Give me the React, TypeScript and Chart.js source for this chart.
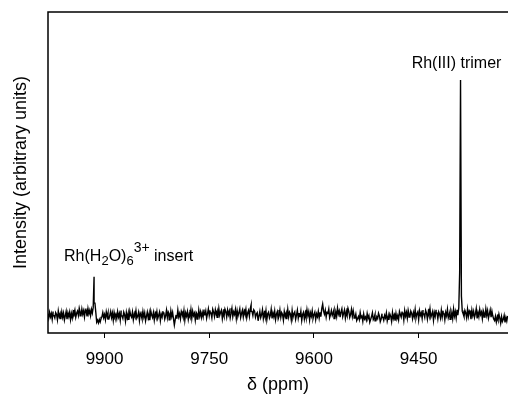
import React, { useEffect, useRef } from "react";
import { Chart, registerables } from "chart.js";

Chart.register(...registerables);

// Spectrum sampling grid (ppm of the first sample and spacing between samples)
const PPM_START = 9322.5;
const PPM_STEP = 1.25;

// Intensity (arbitrary units) for each sample, from 9322.5 ppm upward
const INTENSITY = [
  -0.4, -2.6, -1.1, -3.2, -0.2, -1.9, -2.8, -0.7, -3.5, -1.4, 0.3, -2.2, -1.0, -3.0, -0.6, -2.4,
  -1.7, -0.5, 1.6, -1.0, 2.1, 0.3, -1.4, 1.8, -0.2, 2.6, -0.9, 0.7, 1.9, -1.6, 1.2, 0.1,
  2.3, -0.8, 1.0, -1.5, 2.7, 0.4, -1.1, 1.5, -0.3, 2.0, -1.8, 0.9, 1.7, -0.6, 2.4, -1.2,
  0.8, 1.9, -0.7, 0.5, 1.5, 8.0, 100, 18.0, 3.0, 0.2, 2.2, -1.3, 1.4, -0.5, 2.5, -1.6,
  0.9, -1.9, 1.6, 0.1, -1.2, 2.4, -0.4, 1.1, -2.1, 0.6, 1.8, -0.9, 2.0, -1.4, 0.3, 1.3,
  -1.7, 0.8, 2.2, -0.6, 1.0, -2.3, 1.5, 0.2, -1.0, 2.6, -0.3, 1.2, -1.8, 0.7, 1.9, -1.1,
  0.4, 2.1, -1.5, 0.9, -0.2, 1.7, -2.0, 1.3, 0.5, -1.3, 2.3, -0.7, 1.0, -1.6, 0.6, 1.6,
  -0.9, 0.3, 2.0, -1.4, 1.1, -0.5, 1.8, -2.2, 0.7, 1.4, -1.0, 0.2, 1.5, -2.1, -0.3, -1.7,
  0.6, -2.4, -0.1, -1.5, 1.0, -2.8, -0.6, 0.4, -1.9, -0.9, -2.6, 0.8, -1.3, -0.2, -2.3, -1.0,
  0.5, -1.8, -2.9, -0.4, 0.7, -1.6, -0.8, -2.5, 0.2, -1.2, -2.0, 0.9, -0.7, -1.9, -3.1, -0.3,
  -1.4, 0.6, -2.2, -0.9, -1.7, 0.4, -2.7, -0.5, -1.1, 1.0, -2.0, -0.6, -1.5, -2.4, 0.3, -1.3,
  -0.4, 1.8, -0.6, 2.4, 0.2, -1.1, 1.5, 2.8, -0.3, 1.0, -1.4, 2.1, 0.7, -0.8, 2.6, 1.2,
  -1.0, 1.7, 0.4, 2.9, -0.7, 1.3, -1.5, 2.2, 0.9, -0.2, 1.9, 0.1, -1.2, 2.5, 0.6, 1.4,
  -0.9, 2.0, 0.3, 1.6, 4.6, 2.8, -0.5, 1.1, -1.3, 1.5, -0.8, 0.4, -2.0, 1.2, 0.1, -1.5,
  1.8, -0.6, 0.9, -2.1, 1.4, -0.3, 2.2, -1.2, 0.5, -1.8, 1.1, 0.2, -2.4, 1.6, -0.7, 0.8,
  -1.4, 2.0, -0.1, -1.9, 1.3, 0.6, -1.0, 1.9, -2.2, 0.4, 1.2, -0.9, 2.3, -1.6, 0.7, -0.4,
  1.5, -2.3, 0.2, 1.0, -1.1, 2.1, -0.5, -1.7, 1.4, 0.3, -2.0, 1.7, -0.8, 0.9, -1.5, 2.4,
  -0.2, -1.3, 1.2, 0.5, -2.1, 1.8, -0.9, 0.6, -1.6, 2.2, 0.1, -1.2, 1.5, -0.4, -2.5, 1.0,
  0.4, -1.0, 1.6, 2.2, -0.3, 1.5, 4.3, 2.7, -0.6, 1.9, 0.8, -1.2, 2.4, 0.3, 1.7, -0.9,
  2.0, 0.6, -1.1, 2.6, 1.0, -0.4, 1.8, -1.5, 2.3, 0.2, 1.3, -0.8, 2.8, 0.7, -1.3, 1.6,
  0.1, 2.1, -0.9, 1.4, 2.5, -0.5, 0.9, -1.6, 2.0, 1.1, -0.2, 2.7, -1.0, 1.5, 0.4, 2.2,
  -0.7, 1.2, 2.4, -1.2, 0.8, 1.9, -0.3, 2.6, 0.5, -1.4, 1.7, 0.0, 2.3, -0.8, 1.0, -1.1,
  1.3, -0.6, 2.0, -1.8, 0.4, 1.1, -2.2, 0.7, -0.3, 1.6, -1.5, 2.2, -0.9, 0.2, -1.9, 1.4,
  -0.5, 0.9, -2.3, 1.8, -1.0, 0.3, 1.5, -1.7, 0.6, -0.8, 2.1, -1.3, 0.0, -2.0, -4.3, -1.6,
  1.1, -0.7, 1.7, -2.1, 0.5, 1.3, -1.2, 2.0, -0.4, -1.8, 0.8, 1.6, -0.9, 0.3, -2.4, 1.2,
  -0.2, -1.5, 1.4, -0.8, 0.6, -2.2, 1.0, -1.1, -0.1, 1.7, -2.0, 0.4, -1.3, 1.2, -0.6, -2.5,
  0.9, -0.9, 1.5, -1.7, -0.2, 0.7, -2.4, 1.1, -0.5, -1.4, 1.8, -0.8, 0.2, -2.1, 1.3, -1.0,
  -0.3, 1.6, -1.9, 0.5, -1.2, 1.0, -2.6, 0.1, 1.2, -1.5, -0.4, 1.9, -2.2, 0.6, -0.9, 1.4,
  -1.6, 0.3, -0.7, 1.1, -2.3, 0.8, -1.1, 1.5, -0.2, -1.8, 0.9, -0.6, 1.3, -2.0, 0.2, -1.2,
  1.0, -0.8, -1.6, -3.0, -1.9, -3.4, -2.2, -3.1, 1.0, 5.0, 16.2, 3.2, 0.8, 2.4, -0.3, 1.9,
  0.4, 2.7, -0.6, 1.5, 2.2, -0.9, 1.8, 0.3, 2.5, -0.4, 1.2, 2.9, -0.2, 1.6, 0.7, -1.0,
  2.1, 0.5, 1.4, -1.3, 0.6, -2.0, 1.2, -0.7, 0.9, -1.8, 1.5, -0.4, -2.2, 0.8, -1.0, 1.3,
  -1.5, 0.4, -0.6, 1.7, -2.1, 0.2, 1.0, -1.3, -0.3, 1.4, -1.9, 0.6, -0.8, 1.1, -1.4, 0.5,
];

const X_TICKS = [9450, 9600, 9750, 9900];
const X_MIN = 9322;
const X_MAX = 9981;
const Y_MIN = -7.7;
const Y_MAX = 128.9;

const TRIMER_PPM = 9390;
const INSERT_PPM = 9915;

const FONT = '"Liberation Sans", Arial, Helvetica, sans-serif';

function valueAt(ppm: number) {
  return INTENSITY[Math.round((ppm - PPM_START) / PPM_STEP)];
}

const annotationPlugin = {
  id: "annot",
  afterDraw(chart: any) {
    const { ctx, chartArea, scales } = chart;
    const xs = scales.x;
    const ys = scales.y;
    ctx.save();
    // frame: left, top, bottom
    ctx.strokeStyle = "#000";
    ctx.lineWidth = 1.5;
    ctx.beginPath();
    ctx.moveTo(chartArea.right + 1, chartArea.top);
    ctx.lineTo(chartArea.left, chartArea.top);
    ctx.lineTo(chartArea.left, chartArea.bottom);
    ctx.lineTo(chartArea.right + 1, chartArea.bottom);
    ctx.stroke();

    ctx.fillStyle = "#000";
    ctx.textBaseline = "alphabetic";

    // Rh(III) trimer label
    const tx = xs.getPixelForValue(TRIMER_PPM);
    const ty = ys.getPixelForValue(valueAt(TRIMER_PPM));
    ctx.font = `16px ${FONT}`;
    ctx.textAlign = "center";
    ctx.fillText("Rh(III) trimer", tx - 4, ty - 11.5);

    // Rh(H2O)6 3+ insert label
    const ix = xs.getPixelForValue(INSERT_PPM);
    const iy = ys.getPixelForValue(valueAt(INSERT_PPM));
    ctx.textAlign = "left";
    const parts = [
      { t: "Rh(H", s: 16, dy: 0 },
      { t: "2", s: 13, dy: 4 },
      { t: "O)", s: 16, dy: 0 },
      { t: "6", s: 13, dy: 4 },
      { t: "3+", s: 14, dy: -9 },
      { t: " insert", s: 16, dy: 0 },
    ];
    let cx = ix - 30;
    const by = iy - 16;
    for (const p of parts) {
      ctx.font = `${p.s}px ${FONT}`;
      ctx.fillText(p.t, cx, by + p.dy);
      cx += ctx.measureText(p.t).width;
    }
    ctx.restore();
  },
};

export default function App() {
  const ref = useRef<HTMLCanvasElement | null>(null);

  useEffect(() => {
    if (!ref.current) return;
    const data = INTENSITY.map((v, i) => ({ x: PPM_START + i * PPM_STEP, y: v }));
    const chart = new Chart(ref.current, {
      type: "line",
      data: {
        datasets: [
          {
            data,
            borderColor: "#000",
            borderWidth: 1.4,
            pointRadius: 0,
            tension: 0,
            fill: false,
          },
        ],
      },
      options: {
        animation: false,
        responsive: false,
        maintainAspectRatio: false,
        layout: { padding: { top: 12, right: 0, left: 0, bottom: 0 } },
        plugins: {
          legend: { display: false },
          tooltip: { enabled: false },
        },
        scales: {
          x: {
            type: "linear",
            reverse: true,
            min: X_MIN,
            max: X_MAX,
            afterBuildTicks: (scale: any) => {
              scale.ticks = X_TICKS.map((v) => ({ value: v }));
            },
            afterFit: (scale: any) => {
              scale.height = 63;
            },
            grid: {
              display: true,
              drawOnChartArea: false,
              drawTicks: true,
              tickLength: 5,
              color: "#000",
              lineWidth: 1,
            },
            border: { display: false },
            ticks: {
              color: "#000",
              padding: 11,
              maxRotation: 0,
              autoSkip: false,
              font: { family: FONT, size: 17 },
              callback: (v: any) => String(v),
            },
            title: {
              display: true,
              text: "δ (ppm)",
              color: "#000",
              font: { family: FONT, size: 18 },
              padding: { top: 0, bottom: 0 },
            },
          },
          y: {
            type: "linear",
            min: Y_MIN,
            max: Y_MAX,
            afterFit: (scale: any) => {
              scale.width = 48;
            },
            grid: { display: false },
            border: { display: false },
            ticks: { display: false },
            title: {
              display: true,
              text: "Intensity (arbitrary units)",
              color: "#000",
              font: { family: FONT, size: 18 },
              padding: { top: 10, bottom: 0 },
            },
          },
        },
      },
      plugins: [annotationPlugin],
    });
    return () => chart.destroy();
  }, []);

  return (
    <div style={{ position: "absolute", left: 0, top: 0, width: 508, height: 396, background: "#fff" }}>
      <canvas ref={ref} width={508} height={396} style={{ display: "block" }} />
    </div>
  );
}
